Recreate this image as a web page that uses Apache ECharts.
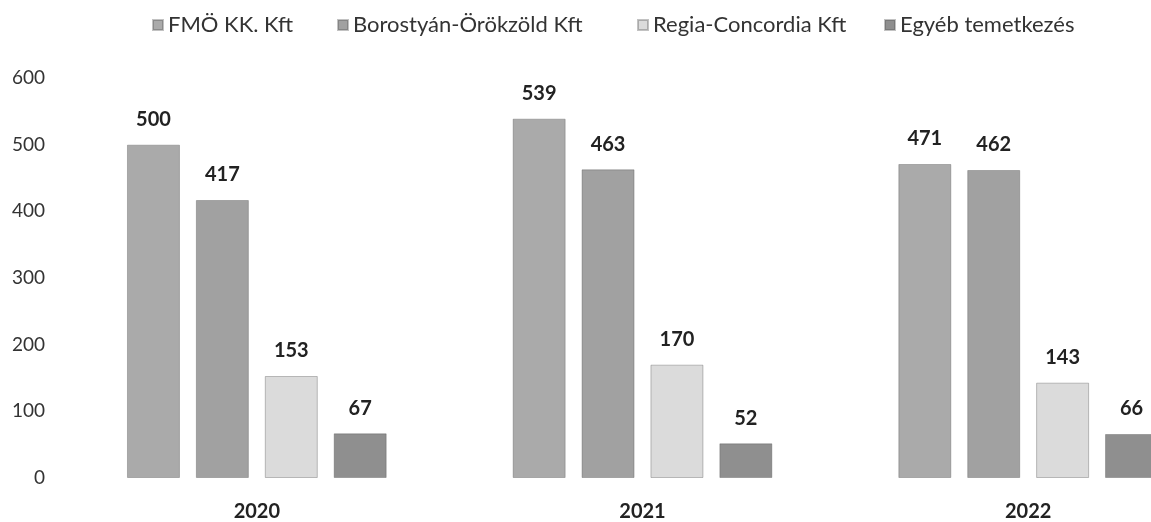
<!DOCTYPE html>
<html><head><meta charset="utf-8">
<script src="https://cdn.jsdelivr.net/npm/echarts@6/dist/echarts.min.js"></script>
<style>html,body{margin:0;padding:0;background:#fff}#c{width:1151px;height:522px}</style>
</head><body><div id="c"></div>
<script>
const categories = ['2020', '2021', '2022'];
const seriesNames = ['FMÖ KK. Kft', 'Borostyán-Örökzöld Kft', 'Regia-Concordia Kft', 'Egyéb temetkezés'];
const fmo = [500, 539, 471];
const borostyan = [417, 463, 462];
const regia = [153, 170, 143];
const egyeb = [67, 52, 66];
const yTicks = [0, 100, 200, 300, 400, 500, 600];

const colors = ['#aaaaaa', '#a1a1a1', '#dbdbdb', '#8f8f8f'];
const values = [fmo, borostyan, regia, egyeb];
const legendLeft = [152, 337, 637, 884];
const font = 'Lato, "Open Sans", sans-serif';

const chart = echarts.init(document.getElementById('c'));
chart.setOption({
  animation: false,
  textStyle: { fontFamily: font },
  legend: seriesNames.map((n, i) => ({
    top: 14, left: legendLeft[i], padding: 0,
    itemWidth: 10, itemHeight: 10, itemGap: 0,
    icon: 'rect',
    textStyle: { fontSize: 22, color: '#333', fontFamily: font },
    data: [n]
  })),
  grid: { left: 64, width: 1157, top: 78, bottom: 44, containLabel: false, outerBoundsMode: 'none' },
  xAxis: {
    type: 'category', data: categories,
    axisLine: { show: false }, axisTick: { show: false },
    axisLabel: { fontSize: 20, fontWeight: 'bold', color: '#222', margin: 24, fontFamily: font }
  },
  yAxis: {
    type: 'value', min: yTicks[0], max: yTicks[yTicks.length - 1], interval: 100,
    splitLine: { show: false }, axisLine: { show: false }, axisTick: { show: false },
    axisLabel: { fontSize: 19, color: '#333', margin: 19, fontFamily: font }
  },
  series: seriesNames.map((n, i) => ({
    name: n, type: 'bar', data: values[i],
    barWidth: 53, barGap: '30%',
    itemStyle: { color: colors[i], borderColor: 'rgba(80,80,80,0.35)', borderWidth: 1 },
    label: { show: true, position: 'top', distance: 15, fontSize: 20, fontWeight: 'bold', color: '#222', fontFamily: font }
  }))
});
</script></body></html>
